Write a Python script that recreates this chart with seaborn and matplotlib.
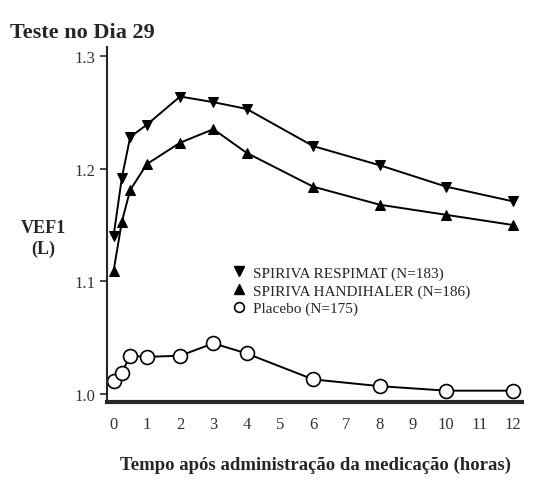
import pandas as pd
import matplotlib.pyplot as plt
import seaborn as sns
from matplotlib.lines import Line2D

hours = [0, 0.25, 0.5, 1, 2, 3, 4, 6, 8, 10, 12]
respimat = [1.140, 1.192, 1.228, 1.239, 1.264, 1.259, 1.253, 1.220, 1.203, 1.184, 1.171]
handihaler = [1.109, 1.153, 1.181, 1.204, 1.223, 1.235, 1.214, 1.184, 1.168, 1.159, 1.150]
placebo = [1.012, 1.019, 1.034, 1.033, 1.034, 1.045, 1.036, 1.013, 1.007, 1.003, 1.003]
labels = ["SPIRIVA RESPIMAT (N=183)", "SPIRIVA HANDIHALER (N=186)", "Placebo (N=175)"]
xticks = list(range(0, 13))
yticks = [1.0, 1.1, 1.2, 1.3]

sns.set_style("ticks")
plt.rcParams["font.family"] = ["Liberation Serif", "DejaVu Serif"]

fig = plt.figure(figsize=(5.51, 4.89), dpi=100)
ax = fig.add_axes([0.194, 0.176, 0.753, 0.726])

df = pd.DataFrame({"h": hours, "r": respimat, "hh": handihaler, "p": placebo})
sns.lineplot(data=df, x="h", y="r", ax=ax, color="black", lw=1.4, marker="v",
             markersize=7, markeredgecolor="black")
sns.lineplot(data=df, x="h", y="hh", ax=ax, color="black", lw=1.4, marker="^",
             markersize=7, markeredgecolor="black")
sns.lineplot(data=df, x="h", y="p", ax=ax, color="black", lw=1.4, marker="o",
             markersize=10, markerfacecolor="white", markeredgecolor="black",
             markeredgewidth=1.2)

ax.set_xlim(-0.2, 12.27)
ax.set_ylim(0.993, 1.308)
ax.set_xticks(xticks)
ax.set_yticks(yticks)
ax.set_yticklabels([f"{v:.1f}" for v in yticks])
ax.tick_params(axis="x", length=0, pad=10, labelsize=12, labelcolor="#333333")
ax.tick_params(axis="y", length=5, width=1.2, direction="out", pad=3,
               labelsize=12, labelcolor="#333333")
ax.set_xlabel("")
ax.set_ylabel("")
sns.despine(ax=ax)
ax.spines["left"].set_linewidth(1.5)
ax.spines["bottom"].set_linewidth(3)

handles = [
    Line2D([], [], ls="none", marker="v", color="black", markersize=7),
    Line2D([], [], ls="none", marker="^", color="black", markersize=7),
    Line2D([], [], ls="none", marker="o", markerfacecolor="white",
           markeredgecolor="black", markersize=7, markeredgewidth=1.2),
]
ax.legend(handles, labels, loc="upper left", bbox_to_anchor=(0.29, 0.4),
          frameon=False, fontsize=11, handlelength=0.8, handletextpad=0.5,
          labelspacing=0.25, borderaxespad=0)

fig.text(0.018, 1 - 33 / 489, "Teste no Dia 29", fontsize=16, fontweight="bold",
         va="center", ha="left")
fig.text(0.078, 1 - 239 / 489, "VEF1\n(L)", fontsize=13, fontweight="bold",
         va="center", ha="center", multialignment="center", linespacing=1.35)
fig.text(0.572, 1 - 465 / 489, "Tempo após administração da medicação (horas)",
         fontsize=13.5, fontweight="bold", va="center", ha="center")

fig.savefig("out.png", dpi=100)
